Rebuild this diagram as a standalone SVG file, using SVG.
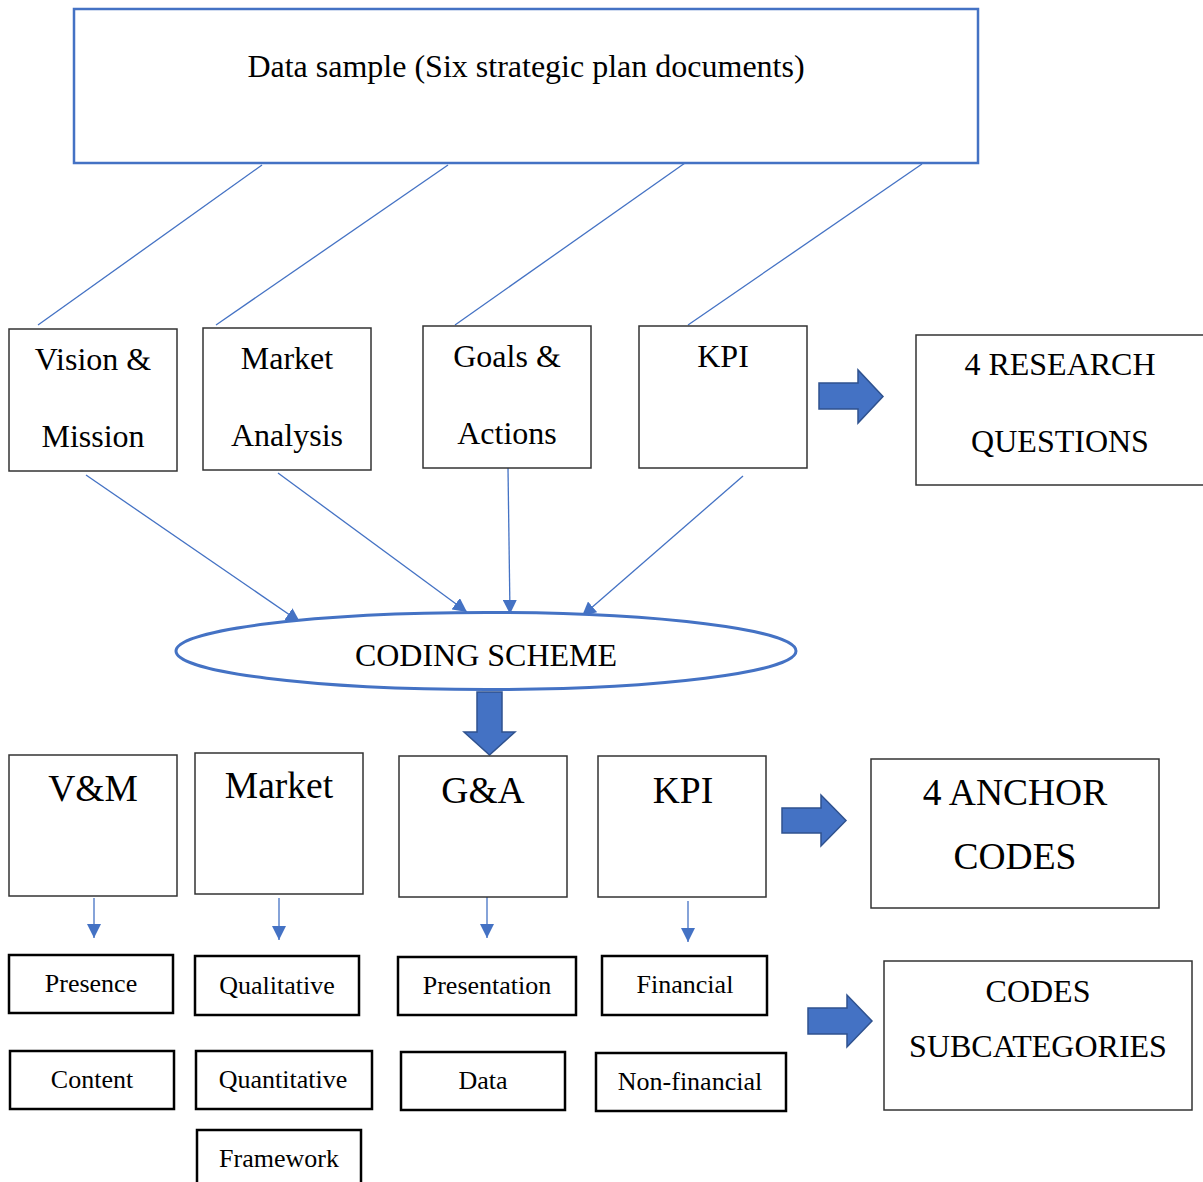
<svg xmlns="http://www.w3.org/2000/svg" width="1203" height="1182" viewBox="0 0 1203 1182">
<style>
text{font-family:"Liberation Serif","Times New Roman",serif;fill:#000;text-anchor:middle}
.box{fill:#fff;stroke:#333;stroke-width:1.5}
.sub{fill:#fff;stroke:#000;stroke-width:2.5}
.ln{stroke:#4472C4;stroke-width:1.3;fill:none}
.blk{fill:#4472C4;stroke:#2F528F;stroke-width:1.5}
.t31{font-size:32px}
.t36{font-size:37.5px}
.t25{font-size:26px}
</style>
<defs>
<marker id="ah" viewBox="0 0 10 10" refX="10" refY="5" markerWidth="14" markerHeight="14" markerUnits="userSpaceOnUse" orient="auto"><path d="M0,0 L10,5 L0,10 z" fill="#4472C4"/></marker>
</defs>
<g id="connectors">
<line class="ln" x1="262" y1="165" x2="38" y2="325"/>
<line class="ln" x1="448" y1="165" x2="216" y2="325"/>
<line class="ln" x1="685" y1="163" x2="455" y2="325"/>
<line class="ln" x1="922" y1="164" x2="688" y2="325"/>
<line class="ln" x1="86" y1="475" x2="300" y2="622" marker-end="url(#ah)"/>
<line class="ln" x1="278" y1="473" x2="467" y2="612" marker-end="url(#ah)"/>
<line class="ln" x1="508" y1="468" x2="510" y2="614" marker-end="url(#ah)"/>
<line class="ln" x1="743" y1="476" x2="582" y2="616" marker-end="url(#ah)"/>
<line class="ln" x1="94" y1="898" x2="94" y2="938" marker-end="url(#ah)"/>
<line class="ln" x1="279" y1="898" x2="279" y2="940" marker-end="url(#ah)"/>
<line class="ln" x1="487" y1="897" x2="487" y2="938" marker-end="url(#ah)"/>
<line class="ln" x1="688" y1="901" x2="688" y2="942" marker-end="url(#ah)"/>
<path class="blk" d="M477,692 H502 V732 H515 L489.5,755 L464,732 H477 Z"/>
<path class="blk" d="M819,383 H858 V370 L883,396.5 L858,423 V409 H819 Z"/>
<path class="blk" d="M782,808 H821 V795 L846,820.5 L821,846 V833 H782 Z"/>
<path class="blk" d="M808,1008 H847 V995 L872,1021 L847,1047 V1034 H808 Z"/>
</g>
<g id="data-sample">
<rect x="74" y="9" width="904" height="154" fill="#fff" stroke="#4472C4" stroke-width="2.5"/>
<text class="t31" x="526" y="77">Data sample (Six strategic plan documents)</text>
</g>
<g id="vision-mission">
<rect class="box" x="9" y="329" width="168" height="142"/>
<text class="t31" x="93" y="370">Vision &amp;</text>
<text class="t31" x="93" y="447">Mission</text>
</g>
<g id="market-analysis">
<rect class="box" x="203" y="328" width="168" height="142"/>
<text class="t31" x="287" y="369">Market</text>
<text class="t31" x="287" y="446">Analysis</text>
</g>
<g id="goals-actions">
<rect class="box" x="423" y="326" width="168" height="142"/>
<text class="t31" x="507" y="367">Goals &amp;</text>
<text class="t31" x="507" y="444">Actions</text>
</g>
<g id="kpi-1">
<rect class="box" x="639" y="326" width="168" height="142"/>
<text class="t31" x="723" y="367">KPI</text>
</g>
<g id="research-questions">
<rect class="box" x="916" y="335" width="290" height="150"/>
<text class="t31" x="1060" y="375">4 RESEARCH</text>
<text class="t31" x="1060" y="452">QUESTIONS</text>
</g>
<g id="coding-scheme">
<ellipse cx="486" cy="651" rx="310" ry="38.5" fill="#fff" stroke="#4472C4" stroke-width="3"/>
<text class="t31" x="486" y="666">CODING SCHEME</text>
</g>
<g id="vm">
<rect class="box" x="9" y="755" width="168" height="141"/>
<text class="t36" x="93" y="801">V&amp;M</text>
</g>
<g id="market">
<rect class="box" x="195" y="753" width="168" height="141"/>
<text class="t36" x="279" y="798">Market</text>
</g>
<g id="ga">
<rect class="box" x="399" y="756" width="168" height="141"/>
<text class="t36" x="483" y="803">G&amp;A</text>
</g>
<g id="kpi-2">
<rect class="box" x="598" y="756" width="168" height="141"/>
<text class="t36" x="683" y="803">KPI</text>
</g>
<g id="anchor-codes">
<rect class="box" x="871" y="759" width="288" height="149"/>
<text class="t36" x="1015" y="805">4 ANCHOR</text>
<text class="t36" x="1015" y="869">CODES</text>
</g>
<g id="presence">
<rect class="sub" x="9" y="955" width="164" height="58"/>
<text class="t25" x="91" y="992">Presence</text>
</g>
<g id="content">
<rect class="sub" x="10" y="1051" width="164" height="58"/>
<text class="t25" x="92" y="1088">Content</text>
</g>
<g id="qualitative">
<rect class="sub" x="195" y="956" width="164" height="59"/>
<text class="t25" x="277" y="994">Qualitative</text>
</g>
<g id="quantitative">
<rect class="sub" x="196" y="1051" width="176" height="58"/>
<text class="t25" x="283" y="1088">Quantitative</text>
</g>
<g id="framework">
<rect class="sub" x="197" y="1130" width="164" height="60"/>
<text class="t25" x="279" y="1167">Framework</text>
</g>
<g id="presentation">
<rect class="sub" x="398" y="957" width="178" height="58"/>
<text class="t25" x="487" y="994">Presentation</text>
</g>
<g id="data">
<rect class="sub" x="401" y="1052" width="164" height="58"/>
<text class="t25" x="483" y="1089">Data</text>
</g>
<g id="financial">
<rect class="sub" x="602" y="956" width="165" height="59"/>
<text class="t25" x="685" y="993">Financial</text>
</g>
<g id="non-financial">
<rect class="sub" x="596" y="1053" width="190" height="58"/>
<text class="t25" x="690" y="1090">Non-financial</text>
</g>
<g id="codes-subcategories">
<rect class="box" x="884" y="961" width="308" height="149"/>
<text class="t31" x="1038" y="1002">CODES</text>
<text class="t31" x="1038" y="1057">SUBCATEGORIES</text>
</g>
</svg>
